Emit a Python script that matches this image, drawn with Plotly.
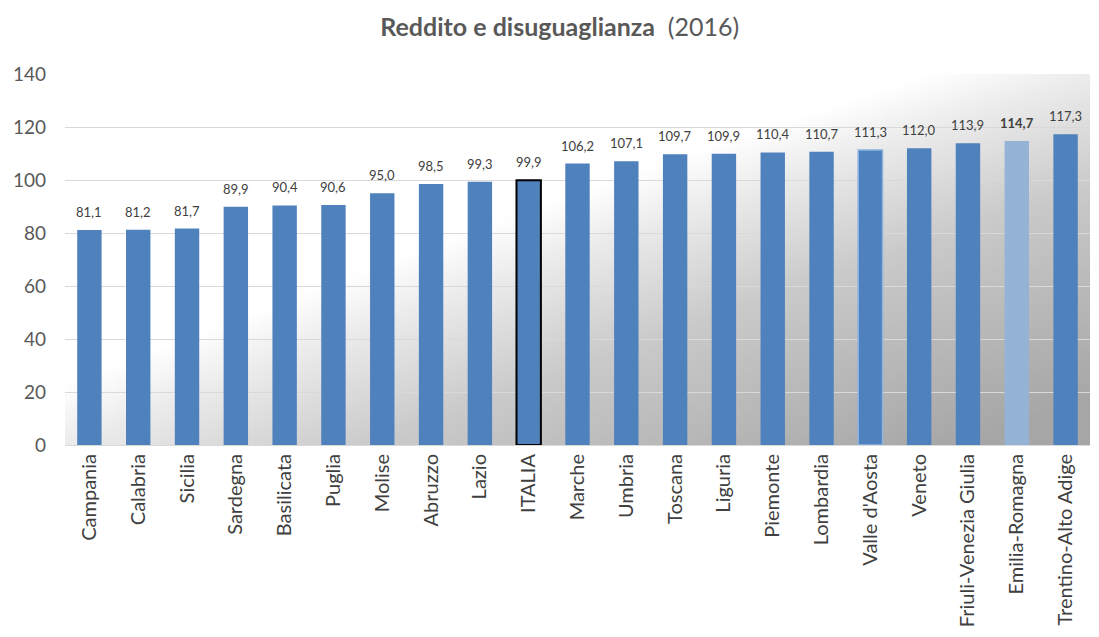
import base64, struct, zlib
import plotly.graph_objects as go

regions = ["Campania", "Calabria", "Sicilia", "Sardegna", "Basilicata", "Puglia",
           "Molise", "Abruzzo", "Lazio", "ITALIA", "Marche", "Umbria", "Toscana",
           "Liguria", "Piemonte", "Lombardia", "Valle d'Aosta", "Veneto",
           "Friuli-Venezia Giulia", "Emilia-Romagna", "Trentino-Alto Adige"]
values = [81.1, 81.2, 81.7, 89.9, 90.4, 90.6, 95.0, 98.5, 99.3, 99.9, 106.2, 107.1,
          109.7, 109.9, 110.4, 110.7, 111.3, 112.0, 113.9, 114.7, 117.3]
y_ticks = [0, 20, 40, 60, 80, 100, 120, 140]

BLUE = "#4f81bd"
LIGHT = "#95b3d7"

colors, line_colors, line_widths, texts = [], [], [], []
for r, v in zip(regions, values):
    lab = f"{v:.1f}".replace(".", ",")
    colors.append(LIGHT if r == "Emilia-Romagna" else BLUE)
    if r == "ITALIA":
        line_colors.append("#000000"); line_widths.append(2)
    elif r == "Valle d'Aosta":
        line_colors.append("#8db4e2"); line_widths.append(1.5)
    else:
        line_colors.append(colors[-1]); line_widths.append(0)
    texts.append(f"<b>{lab}</b>" if r == "Emilia-Romagna" else lab)


# background gradient image (styling only)
def gradient_png(w=220, h=80):
    stops = [(0.0, 255), (0.42, 255), (0.5, 236), (0.67, 202), (1.0, 166)]
    def shade(t):
        for (t0, c0), (t1, c1) in zip(stops, stops[1:]):
            if t <= t1:
                f = (t - t0) / (t1 - t0) if t1 > t0 else 0
                return int(round(c0 + (c1 - c0) * f))
        return stops[-1][1]
    raw = b""
    for j in range(h):
        raw += b"\x00"
        y = j / (h - 1)
        row = bytearray()
        for i in range(w):
            x = i / (w - 1)
            t = (x + y) / 2.0 + 0.06 * (x * y)
            c = shade(min(t, 1.0))
            row += bytes((c, c, c))
        raw += bytes(row)
    def chunk(tag, data):
        return struct.pack(">I", len(data)) + tag + data + struct.pack(">I", zlib.crc32(tag + data) & 0xffffffff)
    png = b"\x89PNG\r\n\x1a\n" + chunk(b"IHDR", struct.pack(">IIBBBBB", w, h, 8, 2, 0, 0, 0)) \
        + chunk(b"IDAT", zlib.compress(raw, 9)) + chunk(b"IEND", b"")
    return "data:image/png;base64," + base64.b64encode(png).decode()


FONT = "Lato, 'Open Sans', sans-serif"

fig = go.Figure(go.Bar(
    x=regions, y=values,
    marker=dict(color=colors, line=dict(color=line_colors, width=line_widths)),
    hoverinfo="x+y",
))

for r, v, t in zip(regions, values, texts):
    fig.add_annotation(x=r, y=v, text=t, showarrow=False, yanchor="bottom", yshift=8,
                       font=dict(family=FONT, size=13, color="#404040"))

fig.update_layout(
    width=1099, height=637,
    margin=dict(l=57, r=17, t=66, b=200),
    paper_bgcolor="white", plot_bgcolor="rgba(0,0,0,0)",
    bargap=0.5, showlegend=False,
    title=dict(text="<b>Reddito e disuguaglianza</b>  (2016)", x=0.502, xanchor="center",
               xref="container", yref="container", y=0.969, yanchor="middle",
               font=dict(family=FONT, size=25, color="#595959")),
    images=[dict(source=gradient_png(), xref="paper", yref="paper", x=0, y=1,
                 sizex=1, sizey=1, xanchor="left", yanchor="top",
                 sizing="stretch", layer="below")],
    font=dict(family=FONT),
)
fig.update_xaxes(tickangle=-90, tickfont=dict(family=FONT, size=20, color="#404040"),
                 showline=True, linecolor="#d9d9d9", linewidth=1, ticks="",
                 showgrid=False, automargin=False)
fig.update_yaxes(range=[0, 140], tickvals=y_ticks, showgrid=True, gridcolor="#d9d9d9",
                 gridwidth=1, zeroline=False, showline=False, automargin=False,
                 tickfont=dict(family=FONT, size=19, color="#595959"), ticklabelstandoff=18)

fig.write_html("out.html")
